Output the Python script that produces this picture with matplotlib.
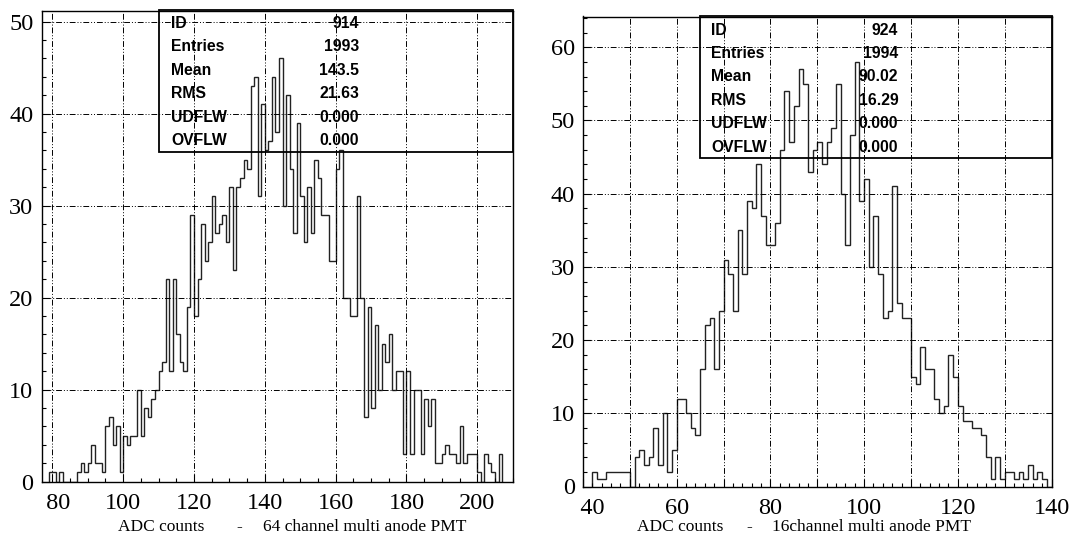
import numpy as np
import matplotlib.pyplot as plt
from matplotlib.ticker import MultipleLocator
from matplotlib.patches import Rectangle

W, H = 1072, 546

# 64 channel MAPMT, bins of 1 ADC count starting at 79
adc64_start = 79
adc64_counts = [1, 1, 0, 1, 0, 0, 0, 0, 1, 2,
                1, 2, 4, 2, 2, 1, 6, 7, 4, 6,
                1, 5, 4, 5, 5, 10, 5, 8, 7, 9,
                10, 12, 13, 22, 12, 22, 16, 13, 12, 19,
                29, 18, 22, 28, 24, 26, 31, 27, 28, 29,
                26, 32, 23, 32, 33, 35, 34, 43, 44, 31,
                41, 36, 37, 44, 38, 46, 30, 42, 34, 27,
                39, 31, 26, 32, 27, 35, 33, 29, 29, 24,
                24, 34, 36, 20, 20, 18, 18, 31, 20, 7,
                19, 8, 17, 10, 15, 13, 16, 10, 12, 12,
                3, 12, 3, 10, 10, 3, 9, 6, 9, 2,
                2, 3, 4, 3, 3, 2, 6, 2, 3, 3,
                3, 1, 0, 3, 2, 1, 0, 3]

# 16 channel MAPMT, bins of 1 ADC count starting at 42
adc16_start = 42
adc16_counts = [2, 1, 1, 2, 2, 2, 2, 2,
                0, 4, 5, 3, 4, 8, 3, 10, 2, 5,
                12, 12, 10, 8, 7, 16, 22, 23, 16, 24,
                31, 29, 24, 35, 29, 39, 38, 44, 37, 33,
                33, 36, 46, 54, 47, 52, 57, 55, 43, 46,
                47, 44, 47, 49, 55, 40, 33, 48, 58, 39,
                42, 30, 37, 29, 23, 24, 41, 25, 23, 23,
                15, 14, 19, 16, 16, 12, 10, 11, 18, 15,
                11, 9, 9, 8, 8, 7, 4, 1, 4, 1,
                2, 2, 1, 2, 1, 3, 1, 2, 1, 0]

stat_names = ["ID", "Entries", "Mean", "RMS", "UDFLW", "OVFLW"]
stats64 = ["914", "1993", "143.5", "21.63", "0.000", "0.000"]
stats16 = ["924", "1994", "90.02", "16.29", "0.000", "0.000"]

xticks64 = [80, 100, 120, 140, 160, 180, 200]
xticks16 = [40, 50, 60, 70, 80, 90, 100, 110, 120, 130, 140]

serif = "Liberation Serif"
sans = "Liberation Sans"
gridstyle = (0, (6, 2, 1, 2, 1, 2))


def px_axes(x0, x1, y0, y1):
    # pixel box (top-left origin) -> figure fraction
    return fig.add_axes([x0 / W, 1 - y1 / H, (x1 - x0) / W, (y1 - y0) / H])


def setup(ax, start, counts, xlim, ylim, xt, labels, xminor):
    edges = np.arange(start, start + len(counts) + 1)
    ax.stairs(counts, edges, baseline=0, color="#222222", lw=1.0)
    ax.set_xlim(*xlim)
    ax.set_ylim(*ylim)
    ax.set_xticks(xt, labels)
    ax.xaxis.set_minor_locator(MultipleLocator(xminor))
    ax.yaxis.set_major_locator(MultipleLocator(10))
    ax.yaxis.set_minor_locator(MultipleLocator(2))
    ax.grid(True, which="major", color="black", lw=0.7, linestyle=gridstyle)
    ax.tick_params(which="both", direction="in", top=False, right=False,
                   labelsize=17.5, width=0.8)
    ax.tick_params(which="major", length=6, pad=6)
    ax.tick_params(which="minor", length=3)
    ax.tick_params(axis="x", pad=8)
    for lab in ax.get_xticklabels() + ax.get_yticklabels():
        lab.set_fontfamily(serif)
    for s in ax.spines.values():
        s.set_linewidth(1.0)


fig = plt.figure(figsize=(W / 100, H / 100), dpi=100)

ax1 = px_axes(41.7, 512.7, 10.5, 481.5)
setup(ax1, adc64_start, adc64_counts, (77, 210), (0, 51.2),
      xticks64, ["  80"] + [str(v) for v in xticks64[1:]], 5)

ax2 = px_axes(583, 1052, 16.5, 486.5)
lab16 = [("   " + str(v) if v == 40 else str(v)) if v % 20 == 0 else ""
         for v in xticks16]
setup(ax2, adc16_start, adc16_counts, (40, 140.1), (0, 64.2),
      xticks16, lab16, 2)


def stats_box(ax, bx0, by1, lx, vx, ry0, vals):
    x0, x1 = ax.get_position().x0 * W, ax.get_position().x1 * W
    y_top = (1 - ax.get_position().y1) * H
    fig.add_artist(Rectangle((bx0 / W, 1 - by1 / H), (x1 - bx0) / W,
                             (by1 - y_top) / H, fill=False, ec="black",
                             lw=1.3, transform=fig.transFigure))
    for i, (name, v) in enumerate(zip(stat_names, vals)):
        y = 1 - (ry0 + i * 23.4) / H
        fig.text(lx / W, y, name, ha="left", va="center", family=sans,
                 weight="bold", fontsize=11.3)
        fig.text(vx / W, y, v, ha="right", va="center", family=sans,
                 weight="bold", fontsize=11.3)


stats_box(ax1, 159.3, 151.7, 171, 359.3, 23.5, stats64)
stats_box(ax2, 699.7, 157.6, 711.5, 898.3, 30.1, stats16)

# x axis titles, spaced as in the original
yl = 1 - 527 / H
for x, s in [(118, "ADC counts"), (236, "-"), (263, "64 channel multi anode PMT"),
             (637, "ADC counts"), (746, "-"), (772, "16channel multi anode PMT")]:
    fig.text(x / W, yl, s, ha="left", va="center", family=serif, fontsize=12.5)

fig.savefig("out.png", dpi=100)
